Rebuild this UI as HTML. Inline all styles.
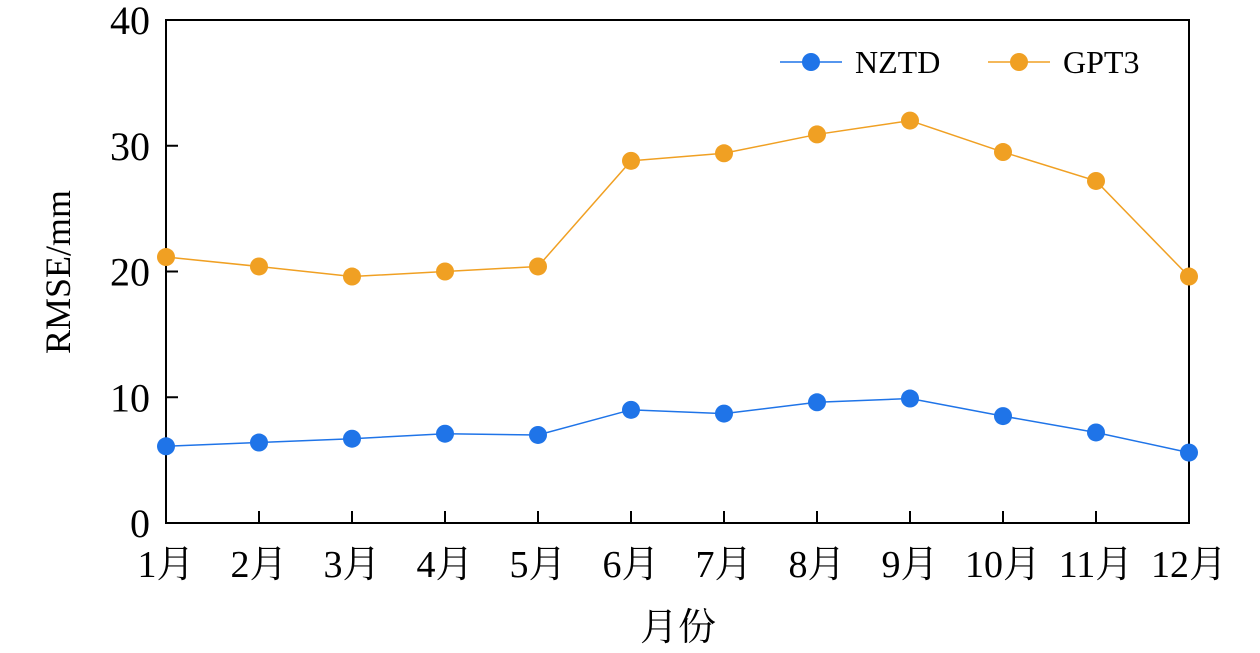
<!DOCTYPE html>
<html><head><meta charset="utf-8"><style>
html,body{margin:0;padding:0;background:#fff;}
svg{display:block;font-family:"Liberation Serif","Noto Serif CJK SC","Noto Sans CJK SC",serif;}
</style></head><body>
<svg id="chart" width="1260" height="653" viewBox="0 0 1260 653">
<g id="axes"></g><g id="series"></g>
<g>
 <g>
  <line x1="780" y1="62" x2="842" y2="62" stroke="#1f74e8" stroke-width="1.5"/>
  <circle cx="811" cy="62" r="9" fill="#1f74e8"/>
  <text x="855" y="73" font-size="32" fill="#000">NZTD</text>
 </g>
 <g>
  <line x1="988" y1="62" x2="1050" y2="62" stroke="#f0a023" stroke-width="1.5"/>
  <circle cx="1019" cy="62" r="9" fill="#f0a023"/>
  <text x="1063" y="73" font-size="32" fill="#000">GPT3</text>
 </g>
</g>
</svg>
<script>
const categories=["1月","2月","3月","4月","5月","6月","7月","8月","9月","10月","11月","12月"];
const nztd=[6.1,6.4,6.7,7.1,7.0,9.0,8.7,9.6,9.9,8.5,7.2,5.6];
const gpt3=[21.15,20.4,19.6,20.0,20.4,28.8,29.4,30.9,32.0,29.5,27.2,19.6];
const yTicks=[0,10,20,30,40];
const L=166,R=1189,T=20,B=523,yMax=40;
const NS="http://www.w3.org/2000/svg";
function x(i){return L+(R-L)*i/(categories.length-1);}
function y(v){return B-(B-T)*v/yMax;}
function mk(tag,attrs,parent){const e=document.createElementNS(NS,tag);for(const k in attrs)e.setAttribute(k,attrs[k]);parent.appendChild(e);return e;}
const axes=document.getElementById('axes'),series=document.getElementById('series');
const frame=mk('rect',{x:L,y:T,width:R-L,height:B-T,fill:'none',stroke:'#000','stroke-width':2},axes);


yTicks.forEach(v=>{
 const t=mk('line',{x1:L,x2:L+12,y1:y(v),y2:y(v),stroke:'#000','stroke-width':2},axes);
 
 
 const tx=mk('text',{x:L-16,y:y(v)+14,'text-anchor':'end','font-size':40},axes);
 tx.textContent=v;
 
 
});
categories.forEach((c,i)=>{
 const t=mk('line',{x1:x(i),x2:x(i),y1:B,y2:B-12,stroke:'#000','stroke-width':2},axes);
 
 
 const tx=mk('text',{x:x(i),y:B+54,'text-anchor':'middle','font-size':38},axes);
 tx.textContent=c;
 
 
});
const yt=mk('text',{x:0,y:0,'text-anchor':'middle','font-size':36,transform:'translate(70,272) rotate(-90)'},axes);
yt.textContent='RMSE/mm';


const xt=mk('text',{x:678,y:640,'text-anchor':'middle','font-size':38},axes);
xt.textContent='月份';


function draw(vals,color,name){
 const g=mk('g',{},series);
 
 
 const pl=mk('polyline',{points:vals.map((v,i)=>x(i)+','+y(v)).join(' '),fill:'none',stroke:color,'stroke-width':1.5},g);
 
 
 vals.forEach((v,i)=>{
  const c=mk('circle',{cx:x(i),cy:y(v),r:9,fill:color},g);
  
  
 });
}
draw(gpt3,'#f0a023','gpt3');
draw(nztd,'#1f74e8','nztd');
</script>
</body></html>
